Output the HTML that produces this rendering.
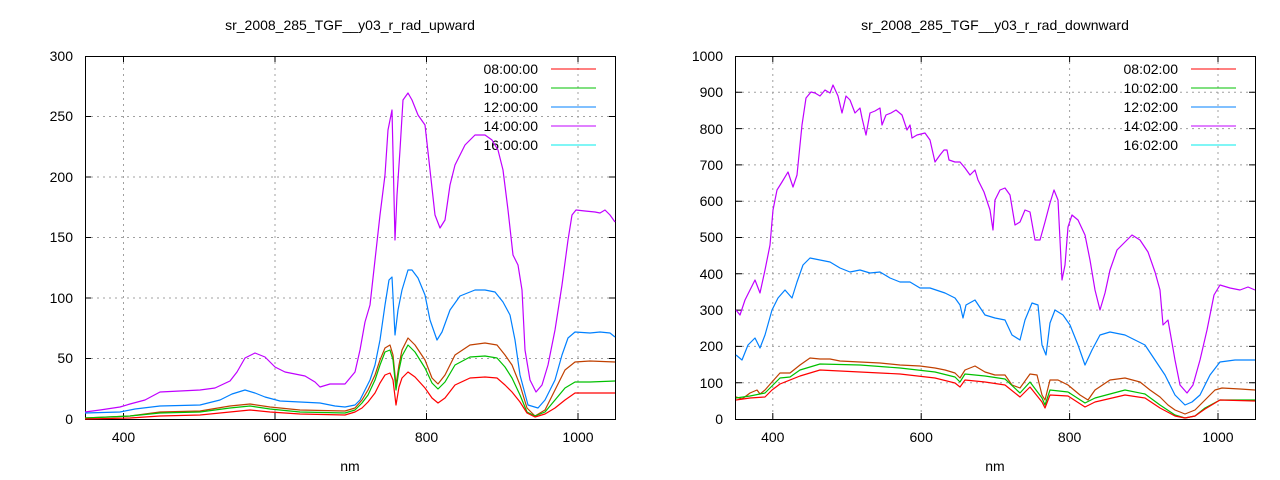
<!DOCTYPE html>
<html><head><meta charset="utf-8"><style>body{margin:0;background:#fff}svg{display:block}text{font-family:"Liberation Sans",sans-serif;font-size:14px;fill:#000}</style></head><body>
<svg width="1280" height="480" viewBox="0 0 1280 480" xmlns="http://www.w3.org/2000/svg">
<g stroke="#a0a0a0" stroke-dasharray="2,4" stroke-width="1">
<path d="M85 358.5H615M85 298H615M85 237.5H615M85 177H615M85 116.5H615M123.5 56V419M275 56V419M426.5 56V419M578 56V419"/>
<path d="M736 382.7H1255M736 346.4H1255M736 310.1H1255M736 273.8H1255M736 237.5H1255M736 201.2H1255M736 164.9H1255M736 128.6H1255M736 92.3H1255M772.8 56V419M921.2 56V419M1069.6 56V419M1218 56V419"/>
</g>
<g stroke="#000" stroke-width="1" fill="none">
<rect x="85.5" y="56.5" width="530" height="363"/>
<rect x="735.5" y="56.5" width="520" height="363"/>
<path d="M85 358.5h6M85 298h6M85 237.5h6M85 177h6M85 116.5h6M615 358.5h-6M615 298h-6M615 237.5h-6M615 177h-6M615 116.5h-6M123.5 419v-6M275 419v-6M426.5 419v-6M578 419v-6M123.5 56v6M275 56v6M426.5 56v6M578 56v6"/>
<path d="M736 382.7h6M736 346.4h6M736 310.1h6M736 273.8h6M736 237.5h6M736 201.2h6M736 164.9h6M736 128.6h6M736 92.3h6M1255 382.7h-6M1255 346.4h-6M1255 310.1h-6M1255 273.8h-6M1255 237.5h-6M1255 201.2h-6M1255 164.9h-6M1255 128.6h-6M1255 92.3h-6M772.8 419v-6M921.2 419v-6M1069.6 419v-6M1218 419v-6M772.8 56v6M921.2 56v6M1069.6 56v6M1218 56v6"/>
</g>
<g text-anchor="end">
<text x="73" y="424">0</text><text x="73" y="363">50</text><text x="73" y="303">100</text><text x="73" y="242">150</text><text x="73" y="182">200</text><text x="73" y="121">250</text><text x="73" y="61">300</text>
<text x="723" y="424">0</text><text x="723" y="388">100</text><text x="723" y="351">200</text><text x="723" y="315">300</text><text x="723" y="279">400</text><text x="723" y="242">500</text><text x="723" y="206">600</text><text x="723" y="170">700</text><text x="723" y="134">800</text><text x="723" y="97">900</text><text x="723" y="61">1000</text>
</g>
<g text-anchor="middle">
<text x="123.5" y="442">400</text><text x="275" y="442">600</text><text x="426.5" y="442">800</text><text x="578" y="442">1000</text>
<text x="772.8" y="442">400</text><text x="921.2" y="442">600</text><text x="1069.6" y="442">800</text><text x="1218" y="442">1000</text>
<text x="350" y="471">nm</text><text x="995" y="471">nm</text>
<text x="350" y="30">sr_2008_285_TGF__y03_r_rad_upward</text>
<text x="995" y="30">sr_2008_285_TGF__y03_r_rad_downward</text>
</g>
<g text-anchor="end">
<text x="538" y="74">08:00:00</text><text x="538" y="93">10:00:00</text><text x="538" y="112">12:00:00</text><text x="538" y="131">14:00:00</text><text x="538" y="150">16:00:00</text>
<text x="1178" y="74">08:02:00</text><text x="1178" y="93">10:02:00</text><text x="1178" y="112">12:02:00</text><text x="1178" y="131">14:02:00</text><text x="1178" y="150">16:02:00</text>
</g>
<g stroke-width="1">
<path stroke="#ff0000" d="M551 69H596M1191 69H1236"/>
<path stroke="#00c000" d="M551 88H596M1191 88H1236"/>
<path stroke="#0080ff" d="M551 107H596M1191 107H1236"/>
<path stroke="#c000ff" d="M551 126H596M1191 126H1236"/>
<path stroke="#00eeee" d="M551 145H596M1191 145H1236"/>
</g>
<g fill="none" stroke-width="1.2" stroke-linejoin="round">
<polyline stroke="#c000ff" points="85,412 100,410 120,407 130,404 145,400 160,392 200,390 215,388 230,381 237,372 245,358 255,353 265,357 275,367 285,372 305,376 315,382 320,387 330,384 345,384 355,372 360,350 365,322 370,305 375,260 380,215 385,175 388,130 392,110 395,240 397,195 400,150 403,100 408,93 412,100 418,115 425,125 430,170 435,215 440,228 445,220 450,185 455,165 465,145 475,135 485,135 492,140 498,150 503,170 508,210 513,255 518,265 522,290 525,350 530,380 536,392 542,385 548,365 555,330 562,285 568,240 572,215 576,210 585,211 595,212 600,213 605,210 610,215 615,222"/>
<polyline stroke="#0080ff" points="85,413 120,412 135,409 160,406 200,405 220,400 232,394 245,390 255,393 265,397 280,401 300,402 320,403 335,406 345,407 355,405 360,400 365,390 370,380 375,365 380,340 385,305 389,280 392,277 395,335 398,310 402,290 408,270 412,270 418,278 425,295 430,320 437,340 442,332 450,310 460,296 475,290 485,290 495,292 503,302 510,315 515,340 520,375 528,405 538,408 545,400 555,380 562,355 568,338 575,332 590,333 600,332 610,333 615,337"/>
<polyline stroke="#c04000" points="85,418 130,416 160,412 200,411 230,406 250,404 270,407 300,410 345,411 355,408 362,400 368,390 375,375 380,360 385,348 390,345 393,355 396,385 399,365 402,350 408,338 415,345 425,360 432,378 438,384 445,375 455,355 470,345 485,343 497,345 505,355 512,365 520,385 527,408 535,416 545,410 555,390 565,370 575,362 590,361 615,362"/>
<polyline stroke="#00c000" points="85,418 130,416 160,413 200,412 230,408 250,406 270,409 300,412 345,413 355,410 362,403 368,395 375,380 380,365 385,352 390,350 393,360 396,390 399,370 402,356 408,345 415,352 425,368 432,383 438,389 445,382 455,365 470,357 485,356 497,358 505,367 512,378 520,395 527,412 535,416 545,412 555,400 565,388 575,382 590,382 615,381"/>
<polyline stroke="#ff0000" points="85,419 130,418 160,416 200,415 230,412 250,410 270,412 300,414 345,415 355,412 362,408 368,402 375,393 380,383 385,375 390,373 393,380 396,405 399,387 402,378 408,372 415,377 425,388 432,398 438,403 445,398 455,385 470,378 485,377 497,378 505,385 512,392 520,402 527,413 535,417 545,414 555,408 565,400 575,393 590,393 615,393"/>
<polyline stroke="#c000ff" points="736,310 740,315 745,300 750,290 755,280 760,293 765,270 770,245 773,210 777,190 782,182 788,172 793,187 797,175 802,125 806,98 811,92 815,93 820,96 825,90 830,93 833,85 838,96 842,113 846,96 850,100 855,113 860,108 862,118 866,135 870,113 875,111 880,108 882,125 886,115 891,113 896,110 902,115 907,130 910,125 912,138 917,135 925,133 930,140 935,162 940,155 944,150 947,150 949,160 955,162 960,162 965,168 970,175 975,170 978,180 984,192 990,210 993,230 995,200 1000,190 1005,188 1010,195 1015,225 1020,222 1025,210 1030,212 1035,240 1040,240 1045,222 1050,203 1054,190 1058,200 1062,280 1065,265 1068,227 1072,215 1078,220 1085,235 1090,260 1095,290 1100,310 1105,293 1110,270 1117,250 1125,242 1132,235 1140,240 1148,252 1155,272 1160,290 1163,325 1168,320 1175,360 1180,385 1187,393 1193,385 1200,360 1207,330 1214,295 1220,285 1230,288 1240,290 1248,287 1255,290"/>
<polyline stroke="#0080ff" points="736,355 742,360 748,345 755,338 760,348 765,335 772,310 778,298 785,290 792,298 797,282 803,265 810,258 820,260 830,262 840,268 850,272 860,270 870,273 880,272 890,278 900,282 910,282 920,288 930,288 945,293 955,298 960,305 963,318 966,305 975,300 985,315 995,318 1005,320 1012,335 1020,340 1025,320 1032,303 1038,305 1042,345 1046,355 1050,323 1055,310 1063,315 1070,325 1078,345 1085,365 1092,350 1100,335 1110,332 1125,335 1135,340 1145,345 1155,360 1165,375 1175,395 1185,405 1192,402 1200,395 1210,375 1220,362 1235,360 1255,360"/>
<polyline stroke="#c04000" points="736,397 742,399 750,393 757,390 760,394 765,390 772,382 780,373 790,373 800,365 810,358 820,359 830,359 840,361 860,362 880,363 900,365 920,366 935,368 945,370 955,373 960,378 965,370 975,366 985,372 995,375 1005,375 1012,385 1020,388 1030,374 1037,375 1042,395 1045,400 1050,380 1058,380 1068,385 1080,395 1088,400 1095,390 1110,380 1125,378 1140,382 1150,390 1160,397 1168,405 1175,410 1185,414 1195,410 1205,400 1215,390 1222,388 1240,389 1255,390"/>
<polyline stroke="#00c000" points="736,398 750,396 765,393 772,386 780,378 790,377 800,370 820,364 860,365 900,368 935,372 955,377 960,382 965,374 985,376 1005,379 1020,393 1030,382 1042,398 1045,405 1050,390 1068,392 1085,403 1095,398 1125,390 1145,394 1160,405 1175,415 1185,418 1195,416 1205,408 1220,400 1255,400"/>
<polyline stroke="#ff0000" points="736,400 750,398 765,397 772,390 780,384 800,376 820,370 860,372 900,374 935,378 955,383 960,387 965,380 985,382 1005,385 1020,397 1030,387 1042,402 1045,408 1050,395 1068,396 1085,407 1095,402 1125,395 1145,398 1160,408 1175,416 1185,418 1195,416 1205,409 1220,400 1255,401"/>
</g>
</svg>
</body></html>
